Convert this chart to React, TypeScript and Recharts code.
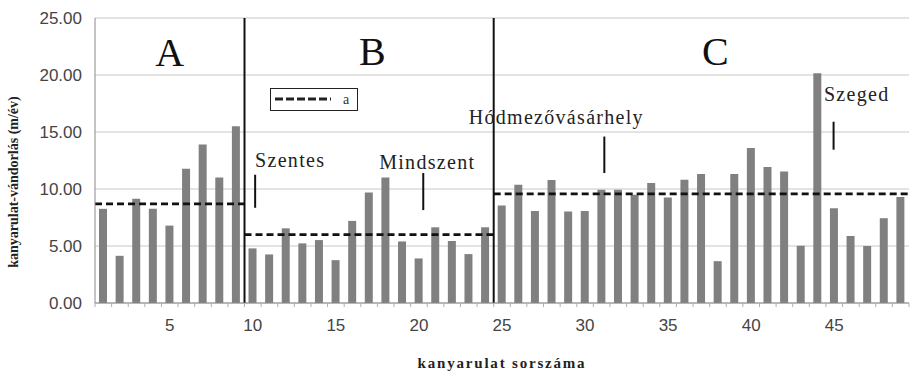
import {
  BarChart, Bar, XAxis, YAxis, CartesianGrid, ReferenceLine, ReferenceDot,
} from "recharts";

// kanyarulat sorszáma 1..49
const RUN_NO = Array.from({ length: 49 }, (_, i) => i + 1);

// kanyarulat-vándorlás (m/év)
const MIGRATION = [
  8.26, 4.14, 9.14, 8.26, 6.79, 11.78, 13.9, 11.0, 15.5,
  4.79, 4.26, 6.55, 5.23, 5.52, 3.76, 7.2, 9.69, 11.0, 5.4,
  3.91, 6.64, 5.44, 4.29, 6.64,
  8.55, 10.37, 8.08, 10.78, 8.02, 8.08, 9.93, 9.93, 9.49, 10.52, 9.25, 10.81, 11.31,
  3.67, 11.31, 13.6, 11.93, 11.54, 5.02, 20.15, 8.32, 5.88, 5.0, 7.44, 9.29,
];

// section borders (between bends) and the dashed "a" level of each section
const SECTION_EDGES = [0.5, 9.5, 24.5, 49.5];
const SECTION_LEVELS = [8.7, 6.0, 9.58];
const SECTION_NAMES = [
  { name: "A", x: 5, y: 22.0 },
  { name: "B", x: 17.2, y: 22.1 },
  { name: "C", x: 37.85, y: 22.1 },
];

// towns: label centre and the short marker stroke below it
const TOWNS = [
  { name: "Szentes", x: 12.25, y: 12.55, mx: 10.14, y1: 11.25, y2: 8.35 },
  { name: "Mindszent", x: 20.5, y: 12.4, mx: 20.26, y1: 11.4, y2: 8.15 },
  { name: "Hódmezővásárhely", x: 28.27, y: 16.35, mx: 31.16, y1: 14.6, y2: 11.4 },
  { name: "Szeged", x: 46.35, y: 18.3, mx: 44.96, y1: 15.9, y2: 13.45 },
];

const Y_TICKS = [0, 5, 10, 15, 20, 25];
const X_LABELS = [5, 10, 15, 20, 25, 30, 35, 40, 45];
// small tick marks sit on the category borders
const X_MARKS = [0.5, ...RUN_NO.map((n) => n + 0.5)];

const data = RUN_NO.map((n, i) => ({ n, v: MIGRATION[i] }));

const SERIF = "'Liberation Serif', 'Times New Roman', serif";
const SANS = "'Liberation Sans', Arial, sans-serif";

function XTick({ x, y, payload }: { x?: number; y?: number; payload?: { value: number } }) {
  const v = payload?.value ?? 0;
  if (Number.isInteger(v)) {
    return (
      <text x={x} y={(y ?? 0) + 28} textAnchor="middle" fontSize={17} fontFamily={SANS} fill="#444">
        {v}
      </text>
    );
  }
  return <line x1={x} x2={x} y1={y} y2={(y ?? 0) + 4} stroke="#b0b0b0" />;
}

function LegendBox() {
  return (
    <div
      style={{
        position: "absolute", left: 270, top: 88, width: 88, height: 23,
        border: "1.5px solid #222", boxSizing: "border-box", background: "#fff",
      }}
    >
      <svg width={85} height={20} style={{ display: "block" }}>
        <line x1={4} x2={60} y1={10} y2={10} stroke="#222" strokeWidth={3} strokeDasharray="8 3" />
        <text x={72} y={15} fontSize={14} fontFamily={SERIF} fill="#333">a</text>
      </svg>
    </div>
  );
}

export default function App() {
  return (
    <div style={{ position: "absolute", left: 0, top: 0, width: 911, height: 374, background: "#fff" }}>
      <BarChart width={911} height={374} data={data} margin={{ top: 18, right: 2, bottom: 21, left: 0 }}>
        <CartesianGrid vertical={false} stroke="#c8c8c8" />
        <XAxis
          dataKey="n" type="number" domain={[0.5, 49.5]}
          ticks={[...X_MARKS, ...X_LABELS]} interval={0}
          tick={<XTick />} tickLine={false} tickSize={0} tickMargin={0}
          height={50} stroke="#8a8a8a"
        />
        <YAxis
          domain={[0, 25]} ticks={Y_TICKS} width={95}
          tickFormatter={(v: number) => v.toFixed(2)}
          tickLine={false} tickSize={0} tickMargin={13}
          tick={{ fontSize: 17, fontFamily: SANS, fill: "#444" }}
          stroke="#8a8a8a"
        />
        <Bar dataKey="v" fill="#808080" barSize={8} isAnimationActive={false} />

        {SECTION_EDGES.slice(1, -1).map((x) => (
          <ReferenceLine key={`edge-${x}`} x={x} stroke="#111" strokeWidth={2} />
        ))}
        {SECTION_LEVELS.map((lvl, i) => (
          <ReferenceLine
            key={`lvl-${i}`}
            segment={[{ x: SECTION_EDGES[i], y: lvl }, { x: SECTION_EDGES[i + 1], y: lvl }]}
            stroke="#111" strokeWidth={2.8} strokeDasharray="7 4"
          />
        ))}
        {SECTION_NAMES.map((s) => (
          <ReferenceDot
            key={s.name} x={s.x} y={s.y} r={0} fill="none" stroke="none"
            label={{ value: s.name, position: "center", fontSize: 40, fontFamily: SERIF, fill: "#111" }}
          />
        ))}
        {TOWNS.map((t) => (
          <ReferenceLine
            key={`mark-${t.name}`}
            segment={[{ x: t.mx, y: t.y1 }, { x: t.mx, y: t.y2 }]}
            stroke="#111" strokeWidth={2}
          />
        ))}
        {TOWNS.map((t) => (
          <ReferenceDot
            key={t.name} x={t.x} y={t.y} r={0} fill="none" stroke="none"
            label={{ value: t.name, position: "center", fontSize: 20, letterSpacing: 1.3, fontFamily: SERIF, fill: "#222" }}
          />
        ))}
      </BarChart>
      <LegendBox />
      <svg width={30} height={374} style={{ position: "absolute", left: 0, top: 0 }}>
        <text
          x={18} y={182} transform="rotate(-90 18 182)" textAnchor="middle"
          fontSize={14} fontWeight="bold" fontFamily={SERIF} fill="#222"
        >
          kanyarulat-vándorlás (m/év)
        </text>
      </svg>
      <div
        style={{
          position: "absolute", left: 0, width: 1004, top: 355, textAlign: "center",
          fontFamily: SERIF, fontWeight: "bold", fontSize: 15, letterSpacing: 1.8, color: "#222",
        }}
      >
        kanyarulat sorszáma
      </div>
    </div>
  );
}
